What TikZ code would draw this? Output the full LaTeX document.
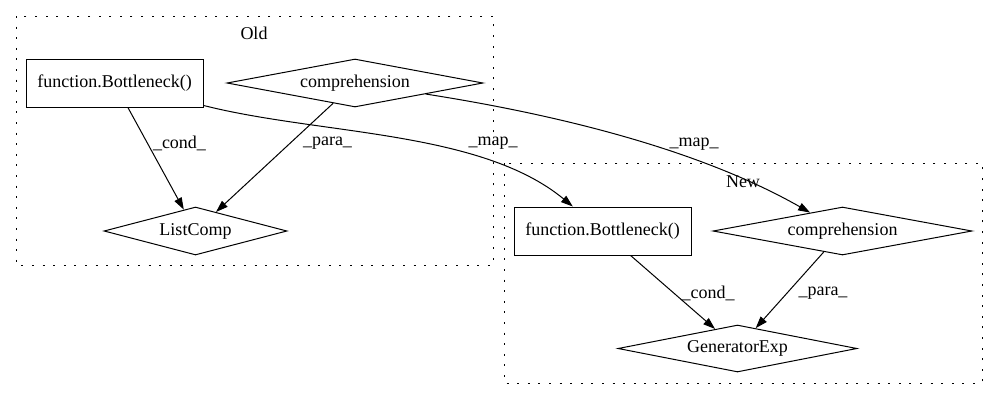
\documentclass[tikz,border=0pt]{standalone}
\usepackage{fontspec}
\setmainfont{Liberation Serif}
\usetikzlibrary{shapes.geometric,arrows.meta}
\begin{document}
\begin{tikzpicture}[x=1pt,y=-1pt,
  every node/.style={font=\fontsize{18}{21}\selectfont},
  box/.style={draw,line width=1pt,minimum width=177pt,minimum height=48pt,inner sep=0pt},
  dia/.style={draw,diamond,line width=1pt,inner sep=0pt,aspect=4},
  cluster/.style={draw,line width=1pt,dash pattern=on 2pt off 8.6pt},
  edge/.style={draw,line width=1pt,-{Triangle[length=12pt,width=8pt]}},
  lbl/.style={inner sep=0pt}]
\useasboundingbox (0,0) rectangle (997,400);
% clusters
\draw[cluster] (16,16) rectangle (493,265);
\draw[cluster] (504,163) rectangle (982,383);
\node[lbl] (oldlbl) at (254,33) {Old};
\node[lbl] (newlbl) at (743,182) {New};
% nodes
\node[box] (ob) at (114.5,83) {function.Bottleneck()};
\node[dia,minimum width=256pt,minimum height=48pt] (oc) at (355,83) {comprehension};
\node[dia,minimum width=183pt,minimum height=48pt] (ol) at (195.5,231) {ListComp};
\node[box] (nb) at (602.5,231) {function.Bottleneck()};
\node[dia,minimum width=259pt,minimum height=48pt] (nc) at (842.5,231) {comprehension};
\node[dia,minimum width=239pt,minimum height=47pt] (ng) at (737.5,348.5) {GeneratorExp};
% edges
\draw[edge] (ob) -- (ol);
\draw[edge] (oc) -- (ol);
\draw[edge] (ob) .. controls (320,135) and (480,130) .. (nb);
\draw[edge] (oc) .. controls (560,115) and (700,150) .. (nc);
\draw[edge] (nb) -- (ng);
\draw[edge] (nc) -- (ng);
% edge labels
\node[lbl] (l1) at (179.5,143) {\_cond\_};
\node[lbl] (l2) at (327.5,143) {\_para\_};
\node[lbl] (l3) at (493,143) {\_map\_};
\node[lbl] (l4) at (694,144) {\_map\_};
\node[lbl] (l5) at (708,293) {\_cond\_};
\node[lbl] (l6) at (823,293) {\_para\_};
\end{tikzpicture}
\end{document}
